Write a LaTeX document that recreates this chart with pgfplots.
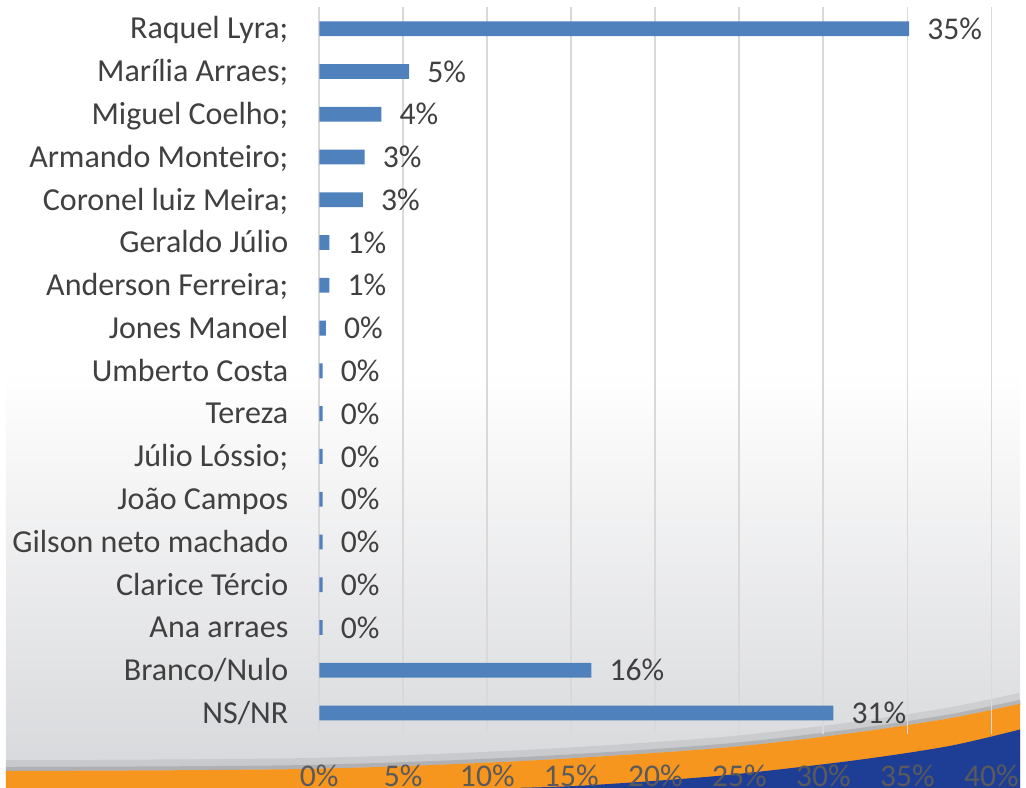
\documentclass[border=0pt]{standalone}
\usepackage{fontspec}
\setmainfont{Carlito}
\usepackage{pgfplots}
\pgfplotsset{compat=1.18}
\definecolor{barblue}{RGB}{79,129,189}
\definecolor{txt}{RGB}{64,64,64}
\definecolor{ticktxt}{RGB}{90,90,90}
\definecolor{swoosh}{RGB}{247,150,30}
\definecolor{deepblue}{RGB}{30,62,150}
\definecolor{gridgray}{RGB}{217,217,217}
\definecolor{bggray}{RGB}{214,215,218}

\begin{document}
\begin{tikzpicture}[x=1pt,y=1pt]
% page background: white fading to grey, orange/blue swoosh at the foot
\fill[white] (0,0) rectangle (513,398.5);
\shade[top color=white,bottom color=bggray] (0,0) rectangle (513,210);
\draw[black,opacity=0.07,line width=6pt] plot[smooth] coordinates {
  (0,11) (150,12) (260,16) (360,22.5) (426.5,30) (476.5,37.5) (513,45)};
\draw[black,opacity=0.12,line width=2pt] plot[smooth] coordinates {
  (0,9.5) (150,10.5) (260,14.5) (360,21) (426.5,28.5) (476.5,36) (513,43.5)};
\fill[swoosh] plot[smooth] coordinates {
  (0,8.5) (150,9.5) (260,13.5) (360,20) (426.5,27.5) (476.5,35) (513,42.5)}
  -- (513,0) -- (0,0) -- cycle;
\fill[deepblue] plot[smooth] coordinates {
  (260,0) (293.5,1.2) (360,6) (426.5,13.5) (476.5,21) (513,29.5)}
  -- (513,0) -- cycle;
\useasboundingbox (0,0) rectangle (513,398.5);

\begin{axis}[
  at={(158.5pt,27pt)},anchor=south west,
  scale only axis,width=340pt,height=367.8pt,
  xbar,bar width=7.5pt,
  xmin=0,xmax=40,ymin=-0.5,ymax=16.5,y dir=reverse,
  axis line style={draw=none},major tick length=0pt,
  xmajorgrids,grid style={gridgray,line width=0.9pt},
  /pgf/number format/assume math mode=true,
  xtick={0,5,...,40},
  xticklabel={\pgfmathprintnumber{\tick}\%},
  xticklabel style={font=\fontsize{16}{18}\selectfont,text=ticktxt,
    anchor=base,inner sep=0pt,yshift=-26.5pt},
  ytick={0,...,16},
  yticklabels={Raquel Lyra;,Marília Arraes;,Miguel Coelho;,Armando Monteiro;,
    Coronel luiz Meira;,Geraldo Júlio,Anderson Ferreira;,Jones Manoel,
    Umberto Costa,Tereza,Júlio Lóssio;,João Campos,Gilson neto machado,
    Clarice Tércio,Ana arraes,Branco/Nulo,NS/NR},
  yticklabel style={font=\fontsize{16.2}{18}\selectfont,text=txt,
    anchor=base east,inner sep=0pt,xshift=-15.5pt,yshift=-5.2pt},
  nodes near coords={\pgfmathprintnumber[fixed,precision=0]{\pgfplotspointmeta}\%},
  every node near coord/.append style={font=\fontsize{16}{18}\selectfont,
    text=txt,anchor=west,inner sep=0pt,xshift=9pt},
  clip=false,
]
\addplot[fill=barblue,draw=none] coordinates {
  (35.1,0) (5.35,1) (3.7,2) (2.7,3) (2.6,4) (0.6,5) (0.6,6) (0.4,7)
  (0.2,8) (0.2,9) (0.2,10) (0.2,11) (0.2,12) (0.2,13) (0.2,14)
  (16.2,15) (30.6,16)};
\end{axis}
\end{tikzpicture}
\end{document}
